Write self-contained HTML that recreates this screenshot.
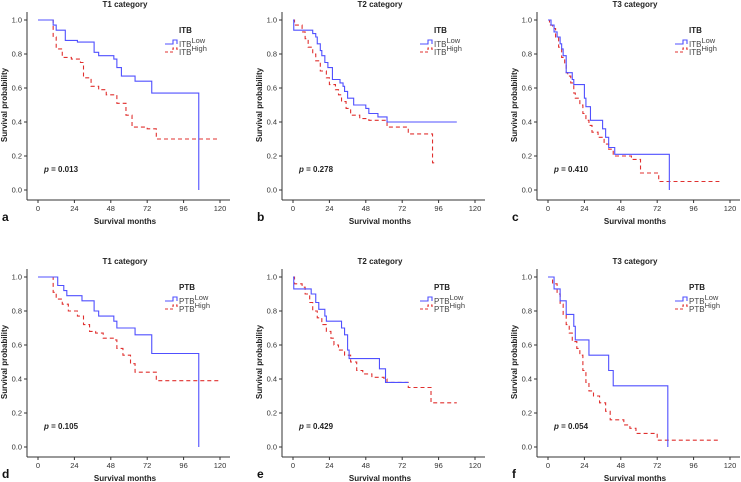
<!DOCTYPE html>
<html><head><meta charset="utf-8">
<style>
html,body{margin:0;padding:0;background:#fff;}
svg{display:block;font-family:"Liberation Sans",Arial,sans-serif;}
</style></head>
<body>
<svg id="fig" width="741" height="482" viewBox="0 0 741 482" xmlns="http://www.w3.org/2000/svg"></svg>
<script>
// Panel a: ITB, T1
const aLowT=[0,10,12,18,26,37,40,50,52,55,64,75,106,106];
const aLowS=[1,0.97,0.94,0.88,0.87,0.81,0.79,0.77,0.72,0.67,0.64,0.57,0,0];
const aHighT=[0,10,12,16,22,28,30,35,40,45,52,58,62,72,78,120];
const aHighS=[1,0.9,0.83,0.78,0.77,0.75,0.66,0.61,0.59,0.56,0.51,0.44,0.37,0.36,0.30,0.30];
// Panel b: ITB, T2
const bLowT=[0,0.5,12,13,15,16,18,19,21,23,26,31,33,34,36,40,48,50,56,62,108];
const bLowS=[1,0.94,0.94,0.92,0.90,0.86,0.82,0.79,0.75,0.72,0.65,0.63,0.61,0.58,0.54,0.50,0.48,0.45,0.43,0.40,0.40];
const bHighT=[0,1,6,8,10,13,15,18,22,24,28,30,32,35,38,44,50,62,76,92,94];
const bHighS=[1,0.97,0.93,0.89,0.84,0.80,0.76,0.70,0.66,0.62,0.59,0.56,0.52,0.48,0.44,0.42,0.41,0.37,0.33,0.16,0.16];
// Panel c: ITB, T3
const cLowT=[0,2,4,6,8,9,10,12,16,17,24,25,28,36,38,40,44,80,80];
const cLowS=[1,0.97,0.93,0.90,0.86,0.83,0.79,0.69,0.65,0.62,0.54,0.49,0.41,0.36,0.31,0.25,0.21,0,0];
const cHighT=[0,1,3,5,7,9,11,12,13,15,17,18,21,23,25,27,29,33,37,40,43,55,61,73,113];
const cHighS=[1,0.97,0.95,0.90,0.84,0.78,0.74,0.69,0.67,0.63,0.57,0.54,0.50,0.45,0.41,0.38,0.34,0.31,0.27,0.24,0.20,0.18,0.10,0.05,0.05];
// Panel d: PTB, T1
const dLowT=[0,13,17,19,29,37,40,50,52,64,75,106,106];
const dLowS=[1,0.95,0.92,0.89,0.86,0.80,0.77,0.74,0.70,0.66,0.55,0,0];
const dHighT=[0,10,12,16,20,26,30,34,38,43,50,52,56,61,64,78,120];
const dHighS=[1,0.91,0.87,0.84,0.80,0.77,0.72,0.68,0.67,0.64,0.63,0.58,0.54,0.49,0.44,0.39,0.39];
// Panel e: PTB, T2
const eLowT=[0,0.5,12,15,17,21,22,32,34,36,37,57,61,76];
const eLowS=[1,0.93,0.90,0.85,0.81,0.77,0.74,0.70,0.66,0.57,0.52,0.46,0.38,0.38];
const eHighT=[0,1,6,8,11,13,16,19,22,25,27,30,34,38,42,46,52,60,62,76,91,108];
const eHighS=[1,0.96,0.94,0.90,0.85,0.80,0.76,0.72,0.68,0.64,0.60,0.57,0.54,0.50,0.45,0.43,0.41,0.40,0.38,0.35,0.26,0.26];
// Panel f: PTB, T3
const fLowT=[0,4,8,12,17,18,27,40,43,79,79];
const fLowS=[1,0.93,0.86,0.78,0.71,0.63,0.54,0.45,0.36,0,0];
const fHighT=[0,3,6,8,10,12,14,16,19,21,23,25,27,30,34,38,41,50,54,58,72,113];
const fHighS=[1,0.96,0.90,0.84,0.78,0.72,0.67,0.62,0.58,0.54,0.45,0.38,0.33,0.30,0.26,0.21,0.16,0.13,0.11,0.08,0.04,0.04];

const xTicks=[0,24,48,72,96,120];
const yTicks=[0,0.2,0.4,0.6,0.8,1.0];
const titles=["T1 category","T2 category","T3 category","T1 category","T2 category","T3 category"];
const pvals=["0.013","0.278","0.410","0.105","0.429","0.054"];
const letters=["a","b","c","d","e","f"];
const groups=["ITB","ITB","ITB","PTB","PTB","PTB"];
const lows=[[aLowT,aLowS],[bLowT,bLowS],[cLowT,cLowS],[dLowT,dLowS],[eLowT,eLowS],[fLowT,fLowS]];
const highs=[[aHighT,aHighS],[bHighT,bHighS],[cHighT,cHighS],[dHighT,dHighS],[eHighT,eHighS],[fHighT,fHighS]];

const NS="http://www.w3.org/2000/svg";
const svg=document.getElementById('fig');
function mk(tag,attrs,parent,text){const e=document.createElementNS(NS,tag);for(const k in attrs)e.setAttribute(k,attrs[k]);if(text!==undefined)e.textContent=text;(parent||svg).appendChild(e);return e;}

const colX=[38,293,548], rowY=[20,277];
const W=182, H=170;
for(let i=0;i<6;i++){
  const x0=colX[i%3], y1=rowY[Math.floor(i/3)], y0=y1+H;
  const sx=t=>x0+t/120*W, sy=s=>y0-s*H;
  const g=mk('g',{});
  
  
  const axY=y0+10, axX=x0-11;
  mk('line',{x1:axX,y1:y1-8,x2:axX,y2:axY,stroke:'#333','stroke-width':1},g);
  mk('line',{x1:axX,y1:axY,x2:x0+W+10,y2:axY,stroke:'#333','stroke-width':1},g);
  xTicks.forEach(t=>{
    mk('line',{x1:sx(t),y1:axY,x2:sx(t),y2:axY+3,stroke:'#333'},g);
    const tl=mk('text',{x:sx(t),y:axY+11,'font-size':7.5,'text-anchor':'middle',fill:'#333'},g,String(t));
    
    
  });
  yTicks.forEach(v=>{
    mk('line',{x1:axX-3,y1:sy(v),x2:axX,y2:sy(v),stroke:'#333'},g);
    const tl=mk('text',{x:axX-5,y:sy(v)+2.5,'font-size':7.5,'text-anchor':'end',fill:'#333'},g,v.toFixed(1));
    
    
  });
  const tt=mk('text',{x:x0+W/2-4,y:y1-13,'font-size':8,'font-weight':'bold','text-anchor':'middle',fill:'#222'},g,titles[i]);
  
  
  const xt=mk('text',{x:x0+W/2-4,y:axY+24,'font-size':8,'font-weight':'bold','text-anchor':'middle',fill:'#222'},g,'Survival months');
  
  
  const yt=mk('text',{x:0,y:0,'font-size':8,'font-weight':'bold','text-anchor':'middle',fill:'#222',transform:`translate(${x0-31},${(y0+y1)/2}) rotate(-90)`},g,'Survival probability');
  
  
  const lt=mk('text',{x:x0-36,y:axY+21,'font-size':12,'font-weight':'bold',fill:'#111'},g,letters[i]);
  
  
  const pt=mk('text',{x:x0+6,y:y0-18,'font-size':8,'font-weight':'bold',fill:'#222'},g);
  
  
  mk('tspan',{'font-style':'italic'},pt,'p');
  mk('tspan',{},pt,' = '+pvals[i]);
  function path(T,S){let d=`M${sx(T[0])},${sy(S[0])}`;for(let k=1;k<T.length;k++){d+=` H${sx(T[k])} V${sy(S[k])}`;}return d;}
  const hp=mk('path',{d:path(highs[i][0],highs[i][1]),fill:'none',stroke:'#e0302f','stroke-width':1.1,'stroke-dasharray':'4,3','shape-rendering':'geometricPrecision'},g);
  
  
  const lp=mk('path',{d:path(lows[i][0],lows[i][1]),fill:'none',stroke:'#5050ff','stroke-width':1.1},g);
  
  
  const lx=x0+127, ly=y1+13;
  const lg=mk('g',{},g);
  
  
  mk('text',{x:lx+14,y:ly,'font-size':8,'font-weight':'bold',fill:'#222'},lg,groups[i]);
  mk('path',{d:`M${lx},${ly+11} H${lx+8} V${ly+7} H${lx+12} V${ly+11}`,fill:'none',stroke:'#5050ff','stroke-width':1.1},lg);
  mk('path',{d:`M${lx},${ly+19} H${lx+8} V${ly+15} H${lx+12} V${ly+19}`,fill:'none',stroke:'#e0302f','stroke-width':1.1,'stroke-dasharray':'3,2'},lg);
  const e1=mk('text',{x:lx+14,y:ly+14,'font-size':8,fill:'#444'},lg);
  mk('tspan',{},e1,groups[i]);mk('tspan',{dy:-4,'font-size':7.5},e1,'Low');
  const e2=mk('text',{x:lx+14,y:ly+22,'font-size':8,fill:'#444'},lg);
  mk('tspan',{},e2,groups[i]);mk('tspan',{dy:-4,'font-size':7.5},e2,'High');
}
</script>
</body></html>
